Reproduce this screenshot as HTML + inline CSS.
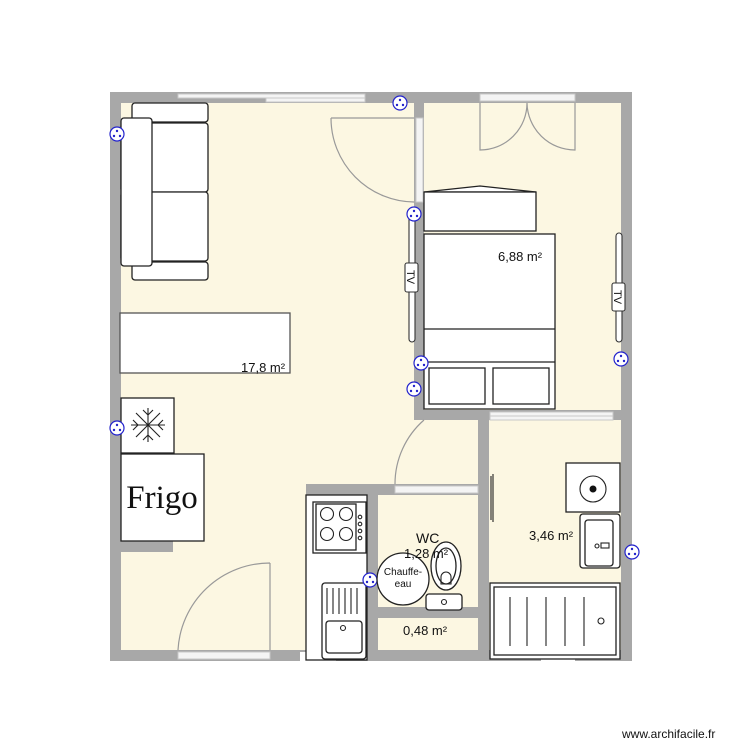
<!DOCTYPE html>
<html><head><meta charset="utf-8"><style>
html,body{margin:0;padding:0;background:#fff;width:750px;height:750px;overflow:hidden}
svg{display:block}
text{font-family:"Liberation Sans",sans-serif;fill:#111}
</style></head><body>
<svg width="750" height="750" viewBox="0 0 750 750" xmlns="http://www.w3.org/2000/svg">
<rect x="110" y="92" width="522" height="569" fill="#fcf7e2"/>
<g fill="#a8a8a8">
<rect x="110" y="92" width="522" height="11"/>
<rect x="110" y="650" width="522" height="11"/>
<rect x="110" y="92" width="11" height="569"/>
<rect x="621" y="92" width="11" height="569"/>
<rect x="414" y="92" width="10" height="328"/>
<rect x="414" y="410" width="218" height="10"/>
<rect x="478" y="410" width="11" height="251"/>
<rect x="306" y="484" width="172" height="11"/>
<rect x="367" y="484" width="11" height="177"/>
<rect x="367" y="607" width="111" height="11"/>
<rect x="110" y="541" width="63" height="11"/>
</g>
<g fill="#f4f4f4" stroke="#c8c8c8" stroke-width="1">
<rect x="178" y="94" width="187" height="4"/>
<rect x="266" y="98" width="99" height="4"/>
<rect x="480" y="94" width="95" height="7"/>
<rect x="490" y="412" width="123" height="4"/>
<rect x="490" y="416" width="123" height="4"/>
<rect x="416" y="118" width="7" height="84"/>
<rect x="395" y="486" width="83" height="7"/>
<rect x="178" y="652" width="92" height="7"/>
</g>
<rect x="300" y="652" width="36" height="9" fill="#fff"/>
<rect x="541" y="652" width="34" height="9" fill="#fff"/>
<g fill="none" stroke="#999" stroke-width="1.2">
<path d="M331 118 L414 118 M331 118 A84 84 0 0 0 414 202"/>
<path d="M395 484 A85 85 0 0 1 424 420"/>
<path d="M270 650 L270 563 M178 650 A92 92 0 0 1 270 563"/>
<path d="M480 103 L480 150 A47 47 0 0 0 527 103 M575 103 L575 150 A48 48 0 0 1 527 103"/>
</g>
<g fill="#fff" stroke="#222" stroke-width="1.3">
<rect x="132" y="103" width="76" height="19" rx="3"/>
<rect x="132" y="262" width="76" height="18" rx="3"/>
<rect x="121" y="123" width="87" height="69" rx="3"/>
<rect x="121" y="192" width="87" height="69" rx="3"/>
<rect x="121" y="118" width="31" height="148" rx="3"/>
<rect x="120" y="313" width="170" height="60" stroke="#555"/>
<path d="M424 192 L480 186 L536 192 Z"/>
<rect x="424" y="192" width="112" height="39"/>
<rect x="424" y="234" width="131" height="175"/>
<line x1="424" y1="329" x2="555" y2="329"/>
<line x1="424" y1="362" x2="555" y2="362"/>
<rect x="429" y="368" width="56" height="36"/>
<rect x="493" y="368" width="56" height="36"/>
<rect x="121" y="398" width="53" height="55"/>
<rect x="121" y="454" width="83" height="87"/>
<rect x="306" y="495" width="61" height="165"/>
<rect x="313" y="502" width="53" height="51"/>
<rect x="316" y="504" width="40" height="46"/>
<rect x="322" y="583" width="44" height="76" rx="3"/>
<rect x="326" y="621" width="36" height="32" rx="3"/>
<rect x="566" y="463" width="54" height="49"/>
<rect x="580" y="514" width="40" height="54" rx="3"/>
<rect x="585" y="520" width="28" height="46" rx="3"/>
<rect x="490" y="583" width="130" height="76"/>
<rect x="494" y="587" width="122" height="68"/>
<ellipse cx="446" cy="566" rx="15" ry="24"/>
<ellipse cx="446" cy="566" rx="10" ry="18"/>
<rect x="426" y="594" width="36" height="16" rx="3"/>
</g>
<g fill="none" stroke="#222" stroke-width="1.1">
<circle cx="327" cy="514" r="6.5"/><circle cx="346" cy="514" r="6.5"/>
<circle cx="327" cy="534" r="6.5"/><circle cx="346" cy="534" r="6.5"/>
<circle cx="360" cy="517" r="1.8"/><circle cx="360" cy="524" r="1.8"/><circle cx="360" cy="531" r="1.8"/><circle cx="360" cy="538" r="1.8"/>
<path d="M327 588 V614 M333 588 V614 M339 588 V614 M345 588 V614 M351 588 V614 M357 588 V614"/>
<circle cx="343" cy="628" r="2.5"/>
<circle cx="593" cy="489" r="13"/>
<circle cx="597" cy="546" r="2"/>
<rect x="601" y="543" width="8" height="5"/>
<path d="M510 597 V646 M527 597 V646 M546 597 V646 M565 597 V646 M584 597 V646"/>
<circle cx="601" cy="621" r="3"/>
<circle cx="444" cy="602" r="2.5"/>
<path d="M441 584 L441 577 A5 5 0 0 1 451 577 L451 584 Z"/>
<path d="M148 408 V442 M131 425 H165 M136 413 L160 437 M160 413 L136 437 M143 410 L148 415 L153 410 M143 440 L148 435 L153 440 M133 420 L138 425 L133 430 M163 420 L158 425 L163 430"/>
<path d="M493 474 V522 M491 476 V520"/>
</g>
<circle cx="593" cy="489" r="3.5" fill="#111"/>
<g fill="#fff" stroke="#333" stroke-width="1.1">
<rect x="409" y="212" width="6" height="130" rx="3"/>
<rect x="405" y="263" width="13" height="29" rx="2"/>
<rect x="616" y="233" width="6" height="109" rx="3"/>
<rect x="612" y="283" width="13" height="28" rx="2"/>
</g>
<text x="411" y="277" font-size="11" text-anchor="middle" transform="rotate(90 411 277)" dy="4">TV</text>
<text x="618" y="297" font-size="11" text-anchor="middle" transform="rotate(90 618 297)" dy="4">TV</text>
<g fill="#fff" stroke="#2222cc" stroke-width="1.2">
<circle cx="400" cy="103" r="7"/>
<circle cx="117" cy="134" r="7"/>
<circle cx="414" cy="214" r="7"/>
<circle cx="421" cy="363" r="7"/>
<circle cx="414" cy="389" r="7"/>
<circle cx="621" cy="359" r="7"/>
<circle cx="117" cy="428" r="7"/>
<circle cx="632" cy="552" r="7"/>
<circle cx="370" cy="580" r="7"/>
</g>
<circle cx="403" cy="579" r="26" fill="#fff" stroke="#222" stroke-width="1.3"/>
<g fill="#2222cc">
<circle cx="400" cy="100" r="1.2"/><circle cx="397" cy="105" r="1.2"/><circle cx="403" cy="105" r="1.2"/>
<circle cx="632" cy="549" r="1.2"/><circle cx="629" cy="554" r="1.2"/><circle cx="635" cy="554" r="1.2"/>
<circle cx="414" cy="386" r="1.2"/><circle cx="411" cy="391" r="1.2"/><circle cx="417" cy="391" r="1.2"/>
<circle cx="117" cy="131" r="1.2"/><circle cx="114" cy="136" r="1.2"/><circle cx="120" cy="136" r="1.2"/>
<circle cx="414" cy="211" r="1.2"/><circle cx="411" cy="216" r="1.2"/><circle cx="417" cy="216" r="1.2"/>
<circle cx="421" cy="360" r="1.2"/><circle cx="418" cy="365" r="1.2"/><circle cx="424" cy="365" r="1.2"/>
<circle cx="621" cy="356" r="1.2"/><circle cx="618" cy="361" r="1.2"/><circle cx="624" cy="361" r="1.2"/>
<circle cx="117" cy="425" r="1.2"/><circle cx="114" cy="430" r="1.2"/><circle cx="120" cy="430" r="1.2"/>
<circle cx="370" cy="577" r="1.2"/><circle cx="367" cy="582" r="1.2"/><circle cx="373" cy="582" r="1.2"/>
</g>
<text x="241" y="372" font-size="13">17,8 m²</text>
<text x="498" y="261" font-size="13">6,88 m²</text>
<text x="529" y="540" font-size="13">3,46 m²</text>
<text x="416" y="543" font-size="14">WC</text>
<text x="404" y="558" font-size="13">1,28 m²</text>
<text x="403" y="575" font-size="10" text-anchor="middle">Chauffe-</text>
<text x="403" y="587" font-size="10" text-anchor="middle">eau</text>
<text x="403" y="635" font-size="13">0,48 m²</text>
<text x="162" y="508" font-size="33" text-anchor="middle" style="font-family:'Liberation Serif',serif">Frigo</text>
<text x="622" y="738" font-size="12">www.archifacile.fr</text>
</svg>
</body></html>
